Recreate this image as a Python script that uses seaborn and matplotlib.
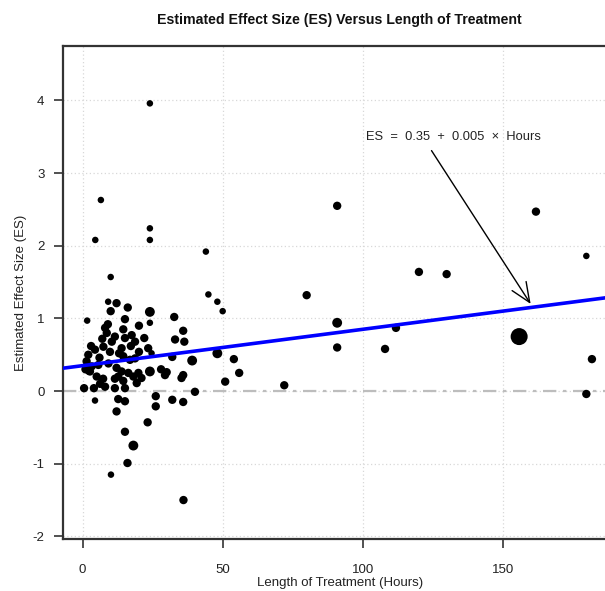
import matplotlib
matplotlib.use("Agg")
import matplotlib.pyplot as plt
import seaborn as sns
import pandas as pd

# ---- data ----
hours = [24, 6.5, 4.5, 24, 24, 44, 10, 44.9, 48.1, 50, 9.1, 12.1, 10, 16.1, 24, 1.6, 15.1, 20.1, 24,
         32.7, 35.9, 8.0, 8.6, 11.5, 14.5, 10.4, 15.1, 17.5, 7.4, 4.4, 9.75, 13.9, 14.5, 16.9, 2.0,
         1.4, 3.2, 5.6, 2.6, 5.0, 12.1, 13.9, 12.7, 16.3, 18.1, 22, 18.7, 33, 36.3, 23.4, 20.1, 24.6,
         18.7, 32, 39.1, 24, 28, 30, 35.9, 19.9, 21, 0.5, 4.0, 8, 11.5, 15.1, 7.3, 11.5, 14.5, 4.4,
         12.7, 15.1, 12.1, 15.1, 18.1, 16, 10.1, 19.3, 29.4, 35.3, 40.1, 26.1, 26.1, 32, 35.9, 23.2,
         36, 48.1, 54, 55.9, 50.9, 72, 80, 90.9, 90.9, 90.9, 108, 111.9, 120.1, 130, 155.9, 161.9,
         179.9, 181.9, 179.9, 1.0, 2.2, 6.2, 9.0, 3.0, 6.0, 9.2, 13.0, 17.2, 7.0]
effect = [3.96, 2.63, 2.08, 2.24, 2.08, 1.92, 1.57, 1.33, 1.23, 1.10, 1.23, 1.21, 1.10, 1.15, 1.09,
          0.97, 0.99, 0.90, 0.94, 1.02, 0.83, 0.87, 0.80, 0.75, 0.85, 0.68, 0.73, 0.77, 0.61, 0.57,
          0.54, 0.59, 0.48, 0.43, 0.50, 0.41, 0.34, 0.36, 0.27, 0.20, 0.32, 0.27, 0.20, 0.25, 0.20,
          0.73, 0.68, 0.71, 0.68, 0.59, 0.54, 0.52, 0.45, 0.47, 0.42, 0.27, 0.30, 0.26, 0.22, 0.25,
          0.18, 0.04, 0.04, 0.06, 0.04, 0.04, 0.17, 0.17, 0.14, -0.13, -0.11, -0.14, -0.28, -0.56,
          -0.75, -0.99, -1.15, 0.11, 0.22, 0.18, -0.01, -0.07, -0.21, -0.12, -0.15, -0.43, -1.50,
          0.52, 0.44, 0.25, 0.13, 0.08, 1.32, 2.55, 0.94, 0.60, 0.58, 0.87, 1.64, 1.61, 0.75, 2.47,
          1.86, 0.44, -0.04, 0.30, 0.28, 0.10, 0.92, 0.62, 0.46, 0.38, 0.52, 0.62, 0.72]
weight = [1, 1, 1, 1, 1, 1, 1, 1, 1, 1, 1, 2, 2, 2, 3, 1, 2, 2, 1, 2, 2, 2, 2, 2, 2, 2, 2, 2, 2, 2,
          2, 2, 2, 2, 2, 2, 2, 2, 2, 2, 2, 2, 2, 2, 2, 2, 2, 2, 2, 2, 2, 1, 2, 2, 3, 3, 2, 2, 2, 2,
          2, 2, 2, 2, 2, 2, 2, 2, 2, 1, 2, 2, 2, 2, 3, 2, 1, 2, 2, 2, 2, 2, 2, 2, 2, 2, 2, 3, 2, 2,
          2, 2, 2, 2, 3, 2, 2, 2, 2, 2, 10, 2, 1, 2, 2, 2, 2, 2, 2, 2, 2, 2, 2, 2, 2]
intercept = 0.35
slope = 0.005
x_ticks = [0, 50, 100, 150]
y_ticks = [-2, -1, 0, 1, 2, 3, 4]

df = pd.DataFrame({"Hours": hours, "ES": effect, "w": weight})

sns.set_style("white")
plt.rcParams["font.family"] = ["Liberation Sans", "DejaVu Sans"]
plt.rcParams["axes.unicode_minus"] = False

fig = plt.figure(figsize=(6.05, 5.91), dpi=100)
ax = fig.add_axes([0.1046, 0.0875, 0.9136, 0.8347])

xlim = (-6.93, 190.5)
ylim = (-2.04, 4.75)

# grid
for xv in x_ticks:
    ax.axvline(xv, color="#d8d8d8", lw=0.9, ls=(0, (1, 2)), zorder=0)
for yv in y_ticks:
    ax.axhline(yv, color="#d8d8d8", lw=0.9, ls=(0, (1, 2)), zorder=0)
ax.axhline(0, color="#bdbdbd", lw=1.6, ls=(0, (6, 3, 1.5, 3)), zorder=1)

sns.scatterplot(data=df, x="Hours", y="ES", size="w", sizes=(22, 150), size_norm=(1, 10),
                color="black", edgecolor="none", linewidth=0, legend=False, ax=ax, zorder=3)

line_df = pd.DataFrame({"Hours": list(xlim)})
line_df["ES"] = intercept + slope * line_df["Hours"]
sns.lineplot(data=line_df, x="Hours", y="ES", color="#0000ff", lw=2.6, ax=ax, zorder=4)

ax.annotate("", xy=(160, 1.2), xytext=(124.6, 3.31),
            arrowprops=dict(arrowstyle="->,head_length=0.7,head_width=0.3", lw=1.0,
                            color="black", mutation_scale=20, shrinkA=0, shrinkB=0))
ax.text(132.5, 3.5, "ES  =  0.35  +  0.005  \u00d7  Hours", ha="center", va="center",
        fontsize=9.3, color="#222222")

ax.set_xlim(*xlim)
ax.set_ylim(*ylim)
ax.set_xticks(x_ticks)
ax.set_yticks(y_ticks)
ax.tick_params(axis="both", which="major", bottom=True, left=True, direction="out",
               length=6.5, width=1.2, color="#333333", labelsize=9.5, labelcolor="#222222")
ax.tick_params(axis="x", pad=11)
ax.tick_params(axis="y", pad=7)
for s in ax.spines.values():
    s.set_color("#333333")
    s.set_linewidth(1.6)

ax.set_xlabel("Length of Treatment (Hours)", fontsize=9.5, labelpad=1, color="#222222")
ax.set_ylabel("Estimated Effect Size (ES)", fontsize=9.5, labelpad=4, color="#222222")
ax.set_title("Estimated Effect Size (ES) Versus Length of Treatment", fontsize=10.2,
             fontweight="bold", pad=16, color="#111111")

fig.savefig("out.png", dpi=100)
